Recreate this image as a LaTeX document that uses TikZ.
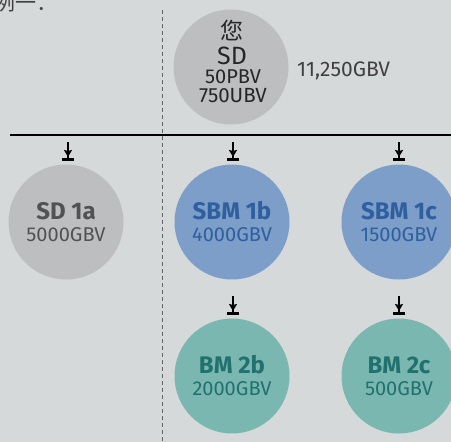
\documentclass[tikz,border=0pt]{standalone}
\usepackage{fontspec}
\setmainfont{Fira Sans}
\newfontfamily\cjk{Noto Sans CJK SC}
\usepackage{xcolor}
\usetikzlibrary{arrows.meta}
\definecolor{bgcol}{HTML}{D5D9DA}
\definecolor{graydisc}{HTML}{BDBEC0}
\definecolor{bluedisc}{HTML}{7C9EC8}
\definecolor{tealdisc}{HTML}{7AB7B1}
\definecolor{graytext}{HTML}{505254}
\definecolor{bluetext}{HTML}{2F5F9E}
\definecolor{tealtext}{HTML}{21716F}
\newcommand{\fsz}[2]{\fontsize{#1}{#2}\selectfont}
\newcommand{\disctext}[2]{{\fsz{24}{22}\bfseries #1}\\#2}

\begin{document}
\begin{tikzpicture}[x=1pt, y=-1pt, every node/.style={inner sep=0pt},
  disc/.style={circle, minimum size=115pt, align=center, font=\fsz{20}{22}},
  sdline/.style={anchor=base, text=black!85},
  drop/.style={line width=2pt, -{Stealth[length=7pt,width=8pt,inset=1pt,sep=1.2pt]Bar[width=12pt,line width=2.6pt]}}]
\clip (0,0) rectangle (451,442);
\fill[bgcol] (0,0) rectangle (451,442);
% Heading
\node[anchor=base west, text=black!75] (title) at (-6,10) {\cjk\fsz{21}{21}例一：};
% Dividers
\coordinate (divtop) at (162,10);
\coordinate (divbot) at (162,442);
\coordinate (ruleleft) at (10,135);
\coordinate (ruleright) at (451,135);
\draw[black!60, line width=0.9pt, dash pattern=on 4pt off 3pt] (divtop) -- (divbot);
\draw[black, line width=1.5pt] (ruleleft) -- (ruleright);
% Top disc
\node[disc, fill=graydisc] (sd) at (231,67) {};
\node[sdline] (sdwho) at (232,39.5) {\cjk\fsz{23}{23}您};
\node[sdline] (sdname) at (232,64.5) {\fsz{25}{25}SD};
\node[sdline] (sdpb) at (233,83.5) {\fsz{20}{20}50PBV};
\node[sdline] (sdub) at (233,102.5) {\fsz{20.5}{20}750UBV};
\node[anchor=base west, text=black!75] (total) at (297,76) {\fsz{21}{21}11,250GBV};
% Row 1
\node[disc, fill=graydisc, text=graytext] (sd1a) at (66,222) {\disctext{SD 1a}{5000GBV}};
\node[disc, fill=bluedisc, text=bluetext] (sbm1b) at (232,222) {\disctext{SBM 1b}{4000GBV}};
\node[disc, fill=bluedisc, text=bluetext] (sbm1c) at (399,222) {\disctext{SBM 1c}{1500GBV}};
% Row 2
\node[disc, fill=tealdisc, text=tealtext] (bm2b) at (232,376) {\disctext{BM 2b}{2000GBV}};
\node[disc, fill=tealdisc, text=tealtext] (bm2c) at (399,376) {\disctext{BM 2c}{500GBV}};
% Arrows
\coordinate (in1a) at (68,142);
\coordinate (in1b) at (233,142);
\coordinate (in1c) at (399,142);
\coordinate (in2b) at (233,296);
\coordinate (in2c) at (399,296);
\draw[drop] (in1a) -- ([yshift=3.5pt]sd1a.north-|in1a);
\draw[drop] (in1b) -- ([yshift=3.5pt]sbm1b.north-|in1b);
\draw[drop] (in1c) -- ([yshift=3.5pt]sbm1c.north-|in1c);
\draw[drop] (in2b) -- ([yshift=3.5pt]bm2b.north-|in2b);
\draw[drop] (in2c) -- ([yshift=3.5pt]bm2c.north-|in2c);
\end{tikzpicture}
\end{document}
